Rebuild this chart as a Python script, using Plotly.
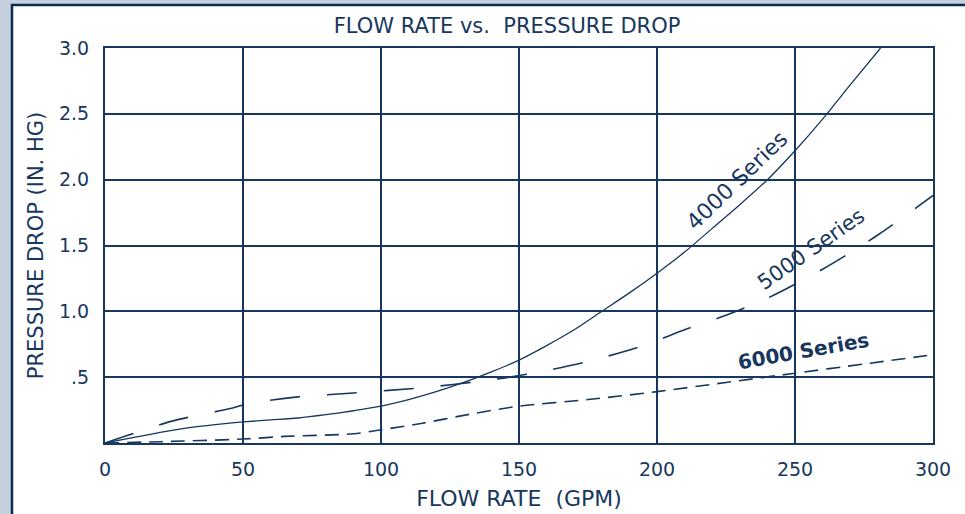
import plotly.graph_objects as go

# ---- data ----
flow_4000 = [0, 10, 20, 30, 40, 50, 60, 70, 80, 90, 100, 110, 120, 130, 140, 150, 160, 170, 180, 190, 200, 210, 220, 230, 240, 250, 260, 270, 281]
dp_4000 = [0, 0.04, 0.08, 0.115, 0.14, 0.16, 0.175, 0.19, 0.215, 0.245, 0.28, 0.33, 0.39, 0.46, 0.54, 0.63, 0.74, 0.86, 1.00, 1.14, 1.29, 1.45, 1.63, 1.81, 2.00, 2.22, 2.46, 2.72, 3.00]

flow_5000 = [0, 10, 25, 45, 52, 70, 90, 115, 140, 155, 175, 195, 210, 225, 240, 260, 280, 300]
dp_5000 = [0, 0.07, 0.17, 0.26, 0.30, 0.35, 0.38, 0.42, 0.48, 0.53, 0.62, 0.74, 0.86, 0.97, 1.10, 1.32, 1.58, 1.88]

flow_6000 = [0, 20, 50, 65, 90, 100, 115, 130, 150, 175, 200, 225, 250, 275, 300]
dp_6000 = [0, 0.01, 0.03, 0.05, 0.07, 0.10, 0.15, 0.21, 0.28, 0.33, 0.39, 0.46, 0.53, 0.60, 0.67]

x_ticks = [0, 50, 100, 150, 200, 250, 300]
x_tick_labels = ["0", "50", "100", "150", "200", "250", "300"]
y_ticks = [0.5, 1.0, 1.5, 2.0, 2.5, 3.0]
y_tick_labels = [".5", "1.0", "1.5", "2.0", "2.5", "3.0"]

series_labels = ["4000 Series", "5000 Series", "6000 Series"]
label_x = [229, 256, 253]
label_y = [1.99, 1.47, 0.70]
label_angle = [-44, -35, -10]
label_size = [22, 21, 20]
label_weight = ["normal", "normal", "bold"]

title_text = "FLOW RATE vs.  PRESSURE DROP"
x_title = "FLOW RATE  (GPM)"
y_title = "PRESSURE DROP (IN. HG)"

# ---- styling ----
NAVY = "#17375e"
FONT = "DejaVu Sans"
W, H = 965, 514
L, R, T, B = 105, 32, 48, 71

fig = go.Figure()
fig.add_trace(go.Scatter(x=flow_4000, y=dp_4000, mode="lines",
                         line=dict(color=NAVY, width=1.3, shape="spline", smoothing=0.8),
                         name=series_labels[0], showlegend=False))
fig.add_trace(go.Scatter(x=flow_5000, y=dp_5000, mode="lines",
                         line=dict(color=NAVY, width=1.6, dash="30px,27px", shape="spline", smoothing=0.8),
                         name=series_labels[1], showlegend=False))
fig.add_trace(go.Scatter(x=flow_6000, y=dp_6000, mode="lines",
                         line=dict(color=NAVY, width=1.6, dash="14px,8px", shape="spline", smoothing=0.8),
                         name=series_labels[2], showlegend=False))

for txt, lx, ly, ang, sz, wt in zip(series_labels, label_x, label_y, label_angle, label_size, label_weight):
    fig.add_annotation(x=lx, y=ly, xref="x", yref="y", text=txt, showarrow=False,
                       textangle=ang, font=dict(family=FONT, size=sz, color=NAVY, weight=wt))

pw = W - L - R
ph = H - T - B
# white panel with dark border
fig.add_shape(type="rect", xref="paper", yref="paper",
              x0=(12 - L) / pw, x1=(1000 - L) / pw,
              y0=(H - B - 560) / ph, y1=(H - B - 5) / ph,
              line=dict(color="#0d2a50", width=2.5), fillcolor="white", layer="below")

fig.update_layout(
    width=W, height=H,
    margin=dict(l=L, r=R, t=T, b=B, pad=0, autoexpand=False),
    paper_bgcolor="#c5cfdd",
    plot_bgcolor="white",
    title=dict(text=title_text, x=507 / W, xanchor="center", y=1 - 26 / H,
               yanchor="middle", font=dict(family=FONT, size=21, color=NAVY)),
    showlegend=False,
)
fig.update_xaxes(range=[0, 300], tickvals=x_ticks, ticktext=x_tick_labels,
                 showgrid=True, gridcolor=NAVY, gridwidth=2, zeroline=False,
                 showline=True, linecolor=NAVY, linewidth=2, mirror=True,
                 ticks="", ticklabelstandoff=8, automargin=False,
                 tickfont=dict(family=FONT, size=19, color=NAVY),
                 title=dict(text=x_title, standoff=12, font=dict(family=FONT, size=22, color=NAVY)))
fig.update_yaxes(range=[0, 3], tickvals=y_ticks, ticktext=y_tick_labels,
                 showgrid=True, gridcolor=NAVY, gridwidth=2, zeroline=False,
                 showline=True, linecolor=NAVY, linewidth=2, mirror=True,
                 ticks="", ticklabelstandoff=10, automargin=False,
                 tickfont=dict(family=FONT, size=19, color=NAVY),
                 title=dict(text=y_title, standoff=10, font=dict(family=FONT, size=21, color=NAVY)))

fig.write_html("out.html", config={"displayModeBar": False},
               post_script="document.body.style.margin='0px';document.body.style.overflow='hidden';")
